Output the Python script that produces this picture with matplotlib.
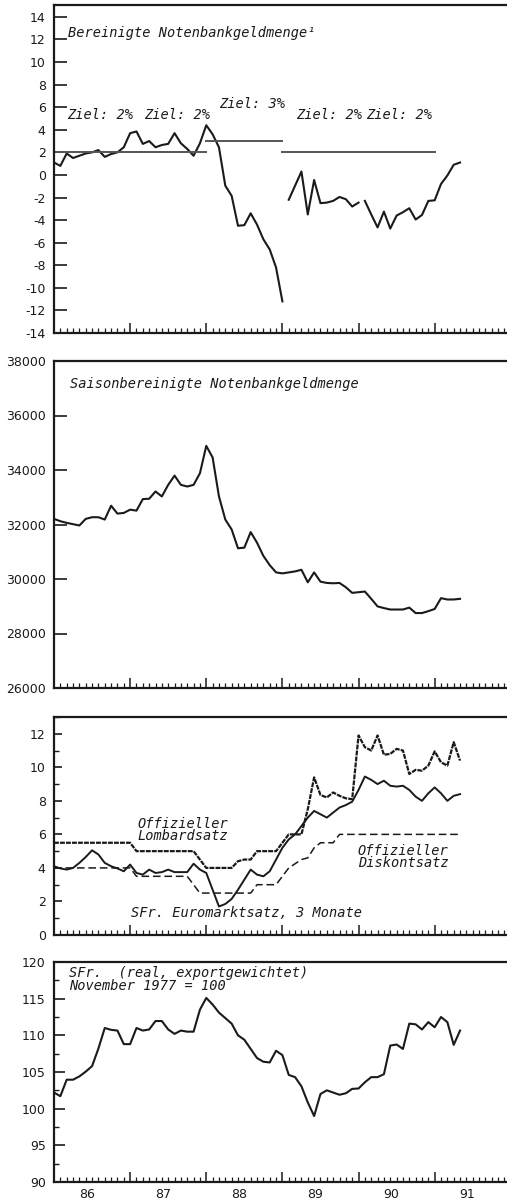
import matplotlib
matplotlib.use("Agg")
import matplotlib.pyplot as plt
import matplotlib.transforms as mtransforms
from matplotlib.ticker import FixedLocator, MultipleLocator
import numpy as np

plt.rcParams["axes.unicode_minus"] = False
plt.rcParams["font.family"] = "DejaVu Sans"

# monthly data, Jan 1986 = month 0
# Bereinigte Notenbankgeldmenge (% gegen Ziel), three separate pieces
geld_seg1 = [1.1, 0.8, 1.9, 1.5, 1.7, 1.9, 2.0, 2.2, 1.6, 1.85, 2.0, 2.45,
             3.7, 3.85, 2.75, 3.0, 2.45, 2.65, 2.75, 3.7, 2.8, 2.3, 1.7, 2.8,
             4.4, 3.6, 2.45, -0.95, -1.85, -4.5, -4.45, -3.4, -4.4, -5.7, -6.6, -8.2,
             -11.2]
geld_seg2 = [-2.2, -0.95, 0.3, -3.5, -0.45, -2.5, -2.45, -2.3, -1.95, -2.15, -2.8, -2.45]
geld_seg3 = [-2.3, -3.5, -4.65, -3.25, -4.75, -3.6, -3.3, -2.95, -3.95, -3.55, -2.3, -2.25,
             -0.8, -0.05, 0.9, 1.1]
seg_start = [0, 37, 49]

# Zielpfade: (start year, end year, level)
ziel_lines = [(1986, 1988, 2), (1988, 1989, 3), (1989, 1991, 2)]
ziel_labels = [(1986.17, 5.35, "Ziel: 2%"), (1987.18, 5.35, "Ziel: 2%"),
               (1988.17, 6.3, "Ziel: 3%"), (1989.18, 5.35, "Ziel: 2%"),
               (1990.1, 5.35, "Ziel: 2%")]

# Saisonbereinigte Notenbankgeldmenge
saison = [32206, 32121, 32060, 32012, 31964, 32206, 32267, 32267, 32182, 32690,
          32400, 32424, 32545, 32509, 32933, 32945, 33212, 33030, 33455, 33794,
          33455, 33394, 33455, 33879, 34885, 34460, 33030, 32182, 31818, 31127,
          31151, 31721, 31333, 30848, 30509, 30242, 30206, 30242, 30279, 30339,
          29879, 30242, 29903, 29855, 29843, 29855, 29697, 29491, 29515, 29540,
          29273, 28994, 28933, 28880, 28880, 28880, 28950, 28750, 28750, 28820,
          28900, 29297, 29248, 29248, 29273]

# Zinssaetze
lombard = [5.5] * 13 + [5.0] * 10 + [4.5] + [4.0] * 5 + [4.4, 4.5, 4.5] + [5.0] * 4 + \
          [5.5, 6.0, 6.0, 6.0, 7.5, 9.4,
           8.35, 8.2, 8.5, 8.3, 8.15, 8.1,
           11.9, 11.2, 11.0, 11.9, 10.75, 10.8, 11.1, 11.0,
           9.6, 9.85, 9.8, 10.1, 10.95, 10.3, 10.1, 11.5, 10.4]
euromarkt = [4.1, 3.97, 3.9, 4.0, 4.3, 4.65, 5.05, 4.8, 4.3, 4.1,
             3.97, 3.8, 4.2, 3.7, 3.6, 3.9, 3.7, 3.75, 3.9, 3.75,
             3.75, 3.75, 4.25, 3.9, 3.7, 2.7, 1.7, 1.85, 2.15, 2.7,
             3.3, 3.9, 3.6, 3.5, 3.8, 4.5, 5.2, 5.7, 6.0, 6.5,
             7.0, 7.4, 7.2, 7.0, 7.3, 7.6, 7.75, 7.95, 8.65, 9.45,
             9.25, 9.0, 9.2, 8.9, 8.85, 8.9, 8.65, 8.25, 8.0, 8.45,
             8.8, 8.45, 8.0, 8.3, 8.4]
diskont = [4.0] * 13 + [3.5] * 9 + [3.0] + [2.5] * 9 + [3.0] * 4 + \
          [3.5, 4.0, 4.25, 4.5, 4.6, 5.2, 5.5, 5.5, 5.5] + [6.0] * 20

# SFr. real, exportgewichtet
sfr_real = [102.2, 101.7, 103.95, 103.95, 104.4, 105.05, 105.8, 108.2, 111.0, 110.75,
            110.65, 108.8, 108.8, 111.0, 110.65, 110.8, 111.95, 111.95, 110.8, 110.2,
            110.65, 110.5, 110.5, 113.5, 115.1, 114.2, 113.1, 112.35, 111.6, 110.0,
            109.4, 108.15, 106.9, 106.4, 106.3, 107.9, 107.3, 104.6, 104.3, 103.05,
            100.85, 99.0, 102.0, 102.5, 102.2, 101.9, 102.1, 102.7, 102.75, 103.6,
            104.3, 104.3, 104.7, 108.6, 108.75, 108.15, 111.6, 111.5, 110.8, 111.8,
            111.1, 112.5, 111.8, 108.7, 110.65]

year_labels = ["86", "87", "88", "89", "90", "91"]

INK = "#1a1a1a"
TXT = dict(family="DejaVu Sans Mono", style="italic", fontsize=9.8, color=INK)


def month_x(start, n):
    return 1986 + (start + np.arange(n)) / 12.0


def style_axis(ax, ylim, major, minor=None, ticklen=9):
    ax.set_xlim(1986, 1991.95)
    ax.set_ylim(*ylim)
    ax.spines["right"].set_visible(False)
    for s in ("left", "bottom", "top"):
        ax.spines[s].set_linewidth(1.6)
        ax.spines[s].set_color(INK)
    ax.xaxis.set_major_locator(FixedLocator(range(1987, 1992)))
    ax.xaxis.set_minor_locator(FixedLocator([1986 + k / 12 for k in range(1, 72) if k % 12]))
    ax.tick_params(axis="x", which="major", direction="in", length=7.5, width=1.1,
                   labelbottom=False, color=INK)
    ax.tick_params(axis="x", which="minor", direction="in", length=3.5, width=0.9, color=INK)
    ax.yaxis.set_major_locator(MultipleLocator(major))
    if minor:
        ax.yaxis.set_minor_locator(MultipleLocator(minor))
        ax.tick_params(axis="y", which="minor", direction="in", length=3.5, width=1.0, color=INK)
    ax.tick_params(axis="y", which="major", direction="in", length=ticklen, width=1.2,
                   pad=6, labelsize=9, color=INK, labelcolor=INK)


fig = plt.figure(figsize=(5.07, 12.03), dpi=100)
left, width = 54 / 507, 453 / 507

# --- Panel 1
ax1 = fig.add_axes([left, 1 - 333 / 1203, width, 328 / 1203])
style_axis(ax1, (-14, 15.05), 2, ticklen=9.5)
ax1.set_yticks(range(-14, 15, 2))
for start, seg in zip(seg_start, [geld_seg1, geld_seg2, geld_seg3]):
    ax1.plot(month_x(start, len(seg)), seg, color=INK, lw=1.5)
for x0, x1, lvl in ziel_lines:
    ax1.plot([x0, x1], [lvl, lvl], color="#555555", lw=1.4)
for xt, yt, s in ziel_labels:
    ax1.text(xt, yt, s, va="center", ha="left", **TXT)
ax1.text(1986.18, 12.55, "Bereinigte Notenbankgeldmenge\u00b9", va="center", ha="left", **TXT)

# --- Panel 2
ax2 = fig.add_axes([left, 1 - 688 / 1203, width, 327 / 1203])
style_axis(ax2, (26000, 38000), 2000, ticklen=9.5)
ax2.plot(month_x(0, len(saison)), saison, color=INK, lw=1.5)
ax2.text(1986.21, 37150, "Saisonbereinigte Notenbankgeldmenge", va="center", ha="left", **TXT)

# --- Panel 3
ax3 = fig.add_axes([left, 1 - 935 / 1203, width, 218 / 1203])
style_axis(ax3, (0, 13), 2, minor=1, ticklen=6)
ax3.set_yticks(range(0, 13, 2))
ax3.plot(month_x(0, len(diskont)), diskont, color=INK, lw=1.1, dashes=(5, 2.5))
ax3.plot(month_x(0, len(euromarkt)), euromarkt, color=INK, lw=1.4)
ax3.plot(month_x(0, len(lombard)), lombard, color=INK, lw=1.6, dashes=(2.2, 0.5))
ax3.text(1987.09, 6.25, "Offizieller\nLombardsatz", va="center", ha="left",
         linespacing=0.85, **TXT)
ax3.text(1989.99, 4.65, "Offizieller\nDiskontsatz", va="center", ha="left",
         linespacing=0.85, **TXT)
ax3.text(1987.01, 1.3, "SFr. Euromarktsatz, 3 Monate", va="center", ha="left", **TXT)

# --- Panel 4
ax4 = fig.add_axes([left, 1 - 1182 / 1203, width, 220 / 1203])
style_axis(ax4, (90, 120), 5, minor=2.5, ticklen=8)
ax4.plot(month_x(0, len(sfr_real)), sfr_real, color=INK, lw=1.5)
ax4.text(1986.2, 117.6, "SFr.  (real, exportgewichtet)\nNovember 1977 = 100", va="center",
         ha="left", linespacing=0.9, **TXT)
trans = mtransforms.blended_transform_factory(ax4.transData, ax4.transAxes)
for i, lab in enumerate(year_labels):
    ax4.text(1986 + i + 0.43, -0.025, lab, transform=trans, ha="center", va="top",
             fontsize=9, color=INK)

fig.savefig("out.png", dpi=100)
